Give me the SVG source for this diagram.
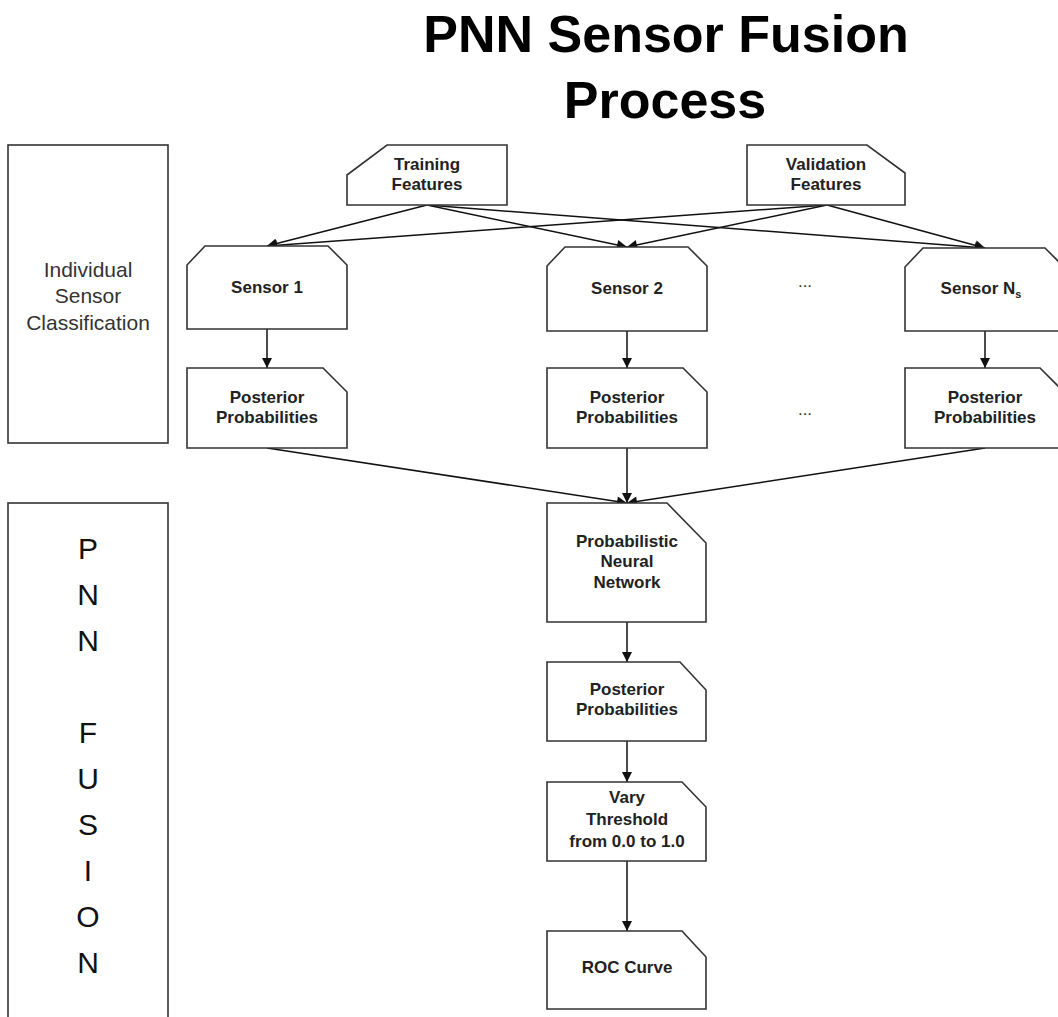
<svg xmlns="http://www.w3.org/2000/svg" width="1058" height="1017" viewBox="0 0 1058 1017">
<defs>
<marker id="arr" viewBox="0 0 10 10" refX="10" refY="5" markerWidth="11" markerHeight="10" markerUnits="userSpaceOnUse" orient="auto">
<path d="M0,0 L10,5 L0,10 z" fill="#111"/>
</marker>
<style>
.box{fill:#fff;stroke:#333;stroke-width:1.6}
.lbl{font-family:"Liberation Sans",Arial,sans-serif;font-size:17px;font-weight:bold;fill:#222;text-anchor:middle}
.side{font-family:"Liberation Sans",Arial,sans-serif;font-size:21px;fill:#333;text-anchor:middle}
.big{font-family:"Liberation Sans",Arial,sans-serif;font-size:30px;fill:#111;text-anchor:middle}
.title{font-family:"Liberation Sans",Arial,sans-serif;font-size:52px;font-weight:bold;fill:#000;text-anchor:middle}
.con{stroke:#111;stroke-width:1.5;fill:none;marker-end:url(#arr)}
.dots{font-family:"Liberation Sans",Arial,sans-serif;font-size:17px;fill:#333;text-anchor:middle}
</style>
</defs>
<rect width="1058" height="1017" fill="#fff"/>
<g id="title">
<text class="title" x="666" y="52">PNN Sensor Fusion</text>
<text class="title" x="665" y="118">Process</text>
</g>
<g id="stage-individual">
<rect class="box" x="8" y="145" width="160" height="298"/>
<text class="side" x="88" y="277">Individual</text>
<text class="side" x="88" y="303">Sensor</text>
<text class="side" x="88" y="330">Classification</text>
</g>
<g id="stage-fusion">
<rect class="box" x="8" y="503" width="160" height="530"/>
<text class="big"><tspan x="88" y="559">P</tspan><tspan x="88" y="605">N</tspan><tspan x="88" y="651">N</tspan><tspan x="88" y="743">F</tspan><tspan x="88" y="789">U</tspan><tspan x="88" y="835">S</tspan><tspan x="88" y="881">I</tspan><tspan x="88" y="927">O</tspan><tspan x="88" y="973">N</tspan></text>
</g>
<g id="connectors">
<line class="con" x1="427" y1="205" x2="267" y2="246"/>
<line class="con" x1="427" y1="205" x2="627" y2="247"/>
<line class="con" x1="427" y1="205" x2="985" y2="248"/>
<line class="con" x1="827" y1="205" x2="267" y2="246"/>
<line class="con" x1="827" y1="205" x2="627" y2="247"/>
<line class="con" x1="827" y1="205" x2="985" y2="248"/>
<line class="con" x1="267" y1="329" x2="267" y2="368"/>
<line class="con" x1="627" y1="331" x2="627" y2="368"/>
<line class="con" x1="985" y1="331" x2="985" y2="368"/>
<line class="con" x1="267" y1="448" x2="627" y2="503"/>
<line class="con" x1="627" y1="448" x2="627" y2="503"/>
<line class="con" x1="985" y1="448" x2="627" y2="503"/>
<line class="con" x1="627" y1="622" x2="627" y2="662"/>
<line class="con" x1="627" y1="741" x2="627" y2="782"/>
<line class="con" x1="627" y1="861" x2="627" y2="931"/>
</g>
<g id="training">
<path class="box" d="M347,175 L387,145 L507,145 L507,205 L347,205 Z"/>
<text class="lbl" x="427" y="170">Training</text>
<text class="lbl" x="427" y="190">Features</text>
</g>
<g id="validation">
<path class="box" d="M747,145 L867,145 L905,173 L905,205 L747,205 Z"/>
<text class="lbl" x="826" y="170">Validation</text>
<text class="lbl" x="826" y="190">Features</text>
</g>
<g id="sensor1">
<path class="box" d="M187,265 L205,246 L328,246 L347,265 L347,329 L187,329 Z"/>
<text class="lbl" x="267" y="293">Sensor 1</text>
</g>
<g id="sensor2">
<path class="box" d="M547,266 L565,247 L688,247 L707,266 L707,331 L547,331 Z"/>
<text class="lbl" x="627" y="294">Sensor 2</text>
</g>
<g id="sensorNs">
<path class="box" d="M905,267 L923,248 L1045,248 L1064,267 L1064,331 L905,331 Z"/>
<text class="lbl" x="981" y="294">Sensor N<tspan font-size="11" dy="4">s</tspan></text>
</g>
<g id="ellipsis-sensors"><text class="dots" x="805" y="287">...</text></g>
<g id="posterior1">
<path class="box" d="M187,368 L323,368 L347,392 L347,448 L187,448 Z"/>
<text class="lbl" x="267" y="403">Posterior</text>
<text class="lbl" x="267" y="423">Probabilities</text>
</g>
<g id="posterior2">
<path class="box" d="M547,368 L683,368 L707,392 L707,448 L547,448 Z"/>
<text class="lbl" x="627" y="403">Posterior</text>
<text class="lbl" x="627" y="423">Probabilities</text>
</g>
<g id="posteriorNs">
<path class="box" d="M905,368 L1040,368 L1064,392 L1064,448 L905,448 Z"/>
<text class="lbl" x="985" y="403">Posterior</text>
<text class="lbl" x="985" y="423">Probabilities</text>
</g>
<g id="ellipsis-posteriors"><text class="dots" x="805" y="415">...</text></g>
<g id="pnn">
<path class="box" d="M547,503 L667,503 L706,543 L706,622 L547,622 Z"/>
<text class="lbl" x="627" y="547">Probabilistic</text>
<text class="lbl" x="627" y="567">Neural</text>
<text class="lbl" x="627" y="588">Network</text>
</g>
<g id="posteriorFused">
<path class="box" d="M547,662 L680,662 L706,690 L706,741 L547,741 Z"/>
<text class="lbl" x="627" y="695">Posterior</text>
<text class="lbl" x="627" y="715">Probabilities</text>
</g>
<g id="threshold">
<path class="box" d="M547,782 L682,782 L706,807 L706,861 L547,861 Z"/>
<text class="lbl" x="627" y="803">Vary</text>
<text class="lbl" x="627" y="825">Threshold</text>
<text class="lbl" x="627" y="847">from 0.0 to 1.0</text>
</g>
<g id="roc">
<path class="box" d="M547,931 L682,931 L706,957 L706,1009 L547,1009 Z"/>
<text class="lbl" x="627" y="973">ROC Curve</text>
</g>
</svg>
